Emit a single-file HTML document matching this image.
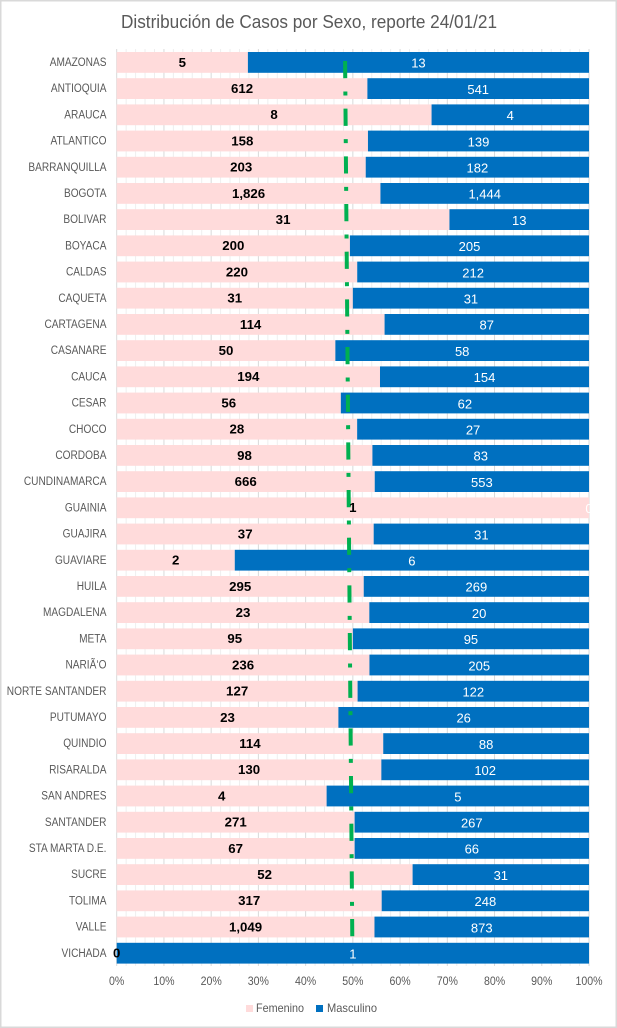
<!DOCTYPE html>
<html lang="es">
<head>
<meta charset="utf-8">
<title>Distribución de Casos por Sexo</title>
<style>
html,body{margin:0;padding:0;background:#fff;}
#chart{display:block;width:617px;height:1028px;font-family:"Liberation Sans",sans-serif;}
</style>
</head>
<body>
<svg id="chart" xmlns="http://www.w3.org/2000/svg" width="617" height="1028" viewBox="0 0 617 1028">
<rect x="0.75" y="0.75" width="615.5" height="1026.5" fill="#fff" stroke="#d9d9d9" stroke-width="1.5"/>
<text id="title" x="309" y="28" text-anchor="middle" font-size="18" fill="#595959">Distribución de Casos por Sexo, reporte 24/01/21</text>
<g id="grid"></g>
<g id="bars"></g>
<g id="trend"></g>
<g id="labels"></g>
<g id="ticks"></g>
<g>
<rect x="246" y="1005" width="7" height="7" fill="#ffdbdb"/>
<text id="legF" x="256" y="1012" font-size="12" fill="#595959">Femenino</text>
<rect x="316" y="1005" width="7" height="7" fill="#0070c0"/>
<text id="legM" x="327" y="1012" font-size="12" fill="#595959">Masculino</text>
</g>
</svg>
<script>
const categories = ["AMAZONAS","ANTIOQUIA","ARAUCA","ATLANTICO","BARRANQUILLA","BOGOTA","BOLIVAR","BOYACA","CALDAS","CAQUETA","CARTAGENA","CASANARE","CAUCA","CESAR","CHOCO","CORDOBA","CUNDINAMARCA","GUAINIA","GUAJIRA","GUAVIARE","HUILA","MAGDALENA","META","NARIÃ‘O","NORTE SANTANDER","PUTUMAYO","QUINDIO","RISARALDA","SAN ANDRES","SANTANDER","STA MARTA D.E.","SUCRE","TOLIMA","VALLE","VICHADA"];
const femenino = [5,612,8,158,203,1826,31,200,220,31,114,50,194,56,28,98,666,1,37,2,295,23,95,236,127,23,114,130,4,271,67,52,317,1049,0];
const masculino = [13,541,4,139,182,1444,13,205,212,31,87,58,154,62,27,83,553,0,31,6,269,20,95,205,122,26,88,102,5,267,66,31,248,873,1];
const tickValues = [0,10,20,30,40,50,60,70,80,90,100];
const minorTickValues = [2,4,6,8,12,14,16,18,22,24,26,28,32,34,36,38,42,44,46,48,52,54,56,58,62,64,66,68,72,74,76,78,82,84,86,88,92,94,96,98];
const trendStartPct = 48.36;
const trendEndPct = 49.88;

const NS = "http://www.w3.org/2000/svg";
const X0 = 116.7, X1 = 589, Y0 = 62.4, STEP = 26.2, BAR = 20.8;
const xScale = p => X0 + (X1 - X0) * p / 100;
const yScale = i => Y0 + STEP * i;
const fmt = n => n.toLocaleString("en-US");

function mk(parent, tag, attrs) {
  const e = document.createElementNS(NS, tag);
  for (const k in attrs) e.setAttribute(k, attrs[k]);
  parent.appendChild(e);
  return e;
}
function squeeze(t, ratio) {
  const w = t.getComputedTextLength();
  t.setAttribute("textLength", (w * ratio).toFixed(2));
  t.setAttribute("lengthAdjust", "spacingAndGlyphs");
}

const grid = document.getElementById("grid");
const bars = document.getElementById("bars");
const trend = document.getElementById("trend");
const labels = document.getElementById("labels");
const ticks = document.getElementById("ticks");
const plotTop = 49, plotBottom = 966;

minorTickValues.forEach(v => {
  const l = mk(grid, "line", {x1: xScale(v), x2: xScale(v), y1: plotTop, y2: plotBottom, stroke: "#eeeeee", "stroke-width": 1});
  
  
});
tickValues.forEach(v => {
  const l = mk(grid, "line", {x1: xScale(v), x2: xScale(v), y1: plotTop, y2: plotBottom, stroke: "#d9d9d9", "stroke-width": 1});
  
  
  const t = mk(ticks, "text", {x: xScale(v), y: 985, "text-anchor": "middle", "font-size": 11.5, fill: "#595959"});
  t.textContent = v + "%";
  
  
  squeeze(t, 0.92);
});

categories.forEach((c, i) => {
  const f = femenino[i], m = masculino[i], total = f + m;
  const pct = 100 * f / total;
  const y = yScale(i);
  const rf = mk(bars, "rect", {x: xScale(0), y: y - BAR / 2, width: xScale(pct) - xScale(0), height: BAR, fill: "#ffdbdb"});
  
  
  const rm = mk(bars, "rect", {x: xScale(pct), y: y - BAR / 2, width: xScale(100) - xScale(pct), height: BAR, fill: "#0070c0"});
  
  

  const cat = mk(labels, "text", {x: 106.5, y: y + 3.6, "text-anchor": "end", "font-size": 11.5, fill: "#595959"});
  cat.textContent = c;
  
  
  squeeze(cat, 0.88);

  const lm = mk(labels, "text", {x: xScale((pct + 100) / 2), y: y + 5.3, "text-anchor": "middle", "font-size": 13, fill: "#ffffff"});
  lm.textContent = fmt(m);
  
  
  squeeze(lm, 1);

  const lf = mk(labels, "text", {x: xScale(pct / 2), y: y + 4.4, "text-anchor": "middle", "font-size": 13, "font-weight": "bold", fill: "#000000"});
  lf.textContent = fmt(f);
  
  
  squeeze(lf, 1.02);
});

const tl = mk(trend, "line", {
  x1: xScale(trendStartPct), x2: xScale(trendEndPct),
  y1: yScale(0) - 1.4, y2: yScale(categories.length - 2) + 10,
  stroke: "#00b050", "stroke-width": 4, "stroke-dasharray": "17.2 13.3 4 13.17"
});



const tt = document.getElementById("title");
tt.setAttribute("textLength", 376);
tt.setAttribute("lengthAdjust", "spacingAndGlyphs");
const lf0 = document.getElementById("legF");
lf0.setAttribute("textLength", 48);
lf0.setAttribute("lengthAdjust", "spacingAndGlyphs");
const lm0 = document.getElementById("legM");
lm0.setAttribute("textLength", 50);
lm0.setAttribute("lengthAdjust", "spacingAndGlyphs");
</script>
</body>
</html>
